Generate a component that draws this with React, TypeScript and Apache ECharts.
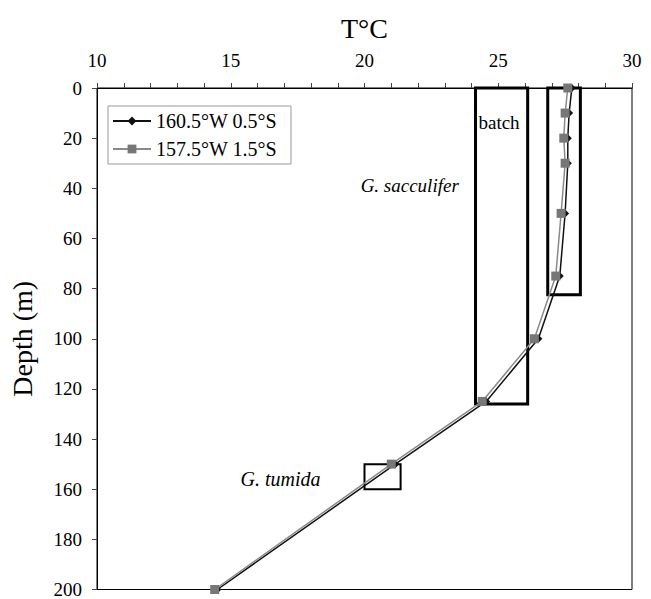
import React, { useEffect, useRef } from "react";
import * as echarts from "echarts";

// Depth profile data
const depths = [0, 10, 20, 30, 50, 75, 100, 125, 150, 200];
const seriesNames = ["160.5°W 0.5°S", "157.5°W 1.5°S"];
const temp160 = [27.75, 27.65, 27.6, 27.6, 27.5, 27.3, 26.5, 24.55, 21.15, 14.5];
const temp157 = [27.6, 27.5, 27.45, 27.5, 27.35, 27.15, 26.35, 24.4, 21.0, 14.4];

// Sampling boxes: [tMin, tMax, depthTop, depthBottom]
const boxes = [
  [24.15, 26.1, 0, 126],
  [26.85, 28.07, 0, 82.5],
  [20.0, 21.35, 150, 160],
];

// Annotations: [temperature, depth, text]
const annotations: [number, number, string][] = [
  [25.03, 13.8, "batch"],
  [21.69, 39, "G. sacculifer"],
  [16.86, 155.9, "G. tumida"],
];
const italicAnnotations = ["G. sacculifer", "G. tumida"];

const xTickLabels = [10, 15, 20, 25, 30];

const FONT = '"Liberation Serif", "Times New Roman", serif';

export default function App() {
  const ref = useRef<HTMLDivElement>(null);

  useEffect(() => {
    if (!ref.current) return;
    const chart = echarts.init(ref.current, undefined, { renderer: "svg" });

    const option: any = {
      animation: false,
      backgroundColor: "#fff",
      textStyle: { fontFamily: FONT },
      grid: {
        left: 93,
        right: 19,
        top: 88,
        bottom: 3,
        show: true,
        borderColor: "#000",
        borderWidth: 1,
        backgroundColor: "transparent",
      },
      legend: {
        orient: "vertical",
        left: 108,
        top: 106,
        padding: [5, 14, 5, 4],
        itemGap: 8,
        itemWidth: 38,
        itemHeight: 11,
        borderColor: "#999",
        borderWidth: 1,
        data: seriesNames,
        textStyle: { fontFamily: FONT, fontSize: 20, color: "#000" },
      },
      xAxis: {
        type: "value",
        position: "top",
        min: 10,
        max: 30,
        interval: 1,
        name: "T°C",
        nameLocation: "middle",
        nameGap: 46,
        nameTextStyle: { fontFamily: FONT, fontSize: 28, color: "#000" },
        axisLine: { show: true, lineStyle: { color: "#000", width: 1 } },
        axisTick: { show: true, inside: false, length: 5, lineStyle: { color: "#444" } },
        axisLabel: {
          margin: 18,
          fontFamily: FONT,
          fontSize: 19,
          color: "#000",
          formatter: (v: number) => (xTickLabels.includes(v) ? String(v) : ""),
        },
        splitLine: { show: false },
      },
      yAxis: {
        type: "value",
        inverse: true,
        min: 0,
        max: 200,
        interval: 20,
        name: "Depth (m)",
        nameLocation: "middle",
        nameRotate: 90,
        nameGap: 61,
        nameTextStyle: { fontFamily: FONT, fontSize: 28, color: "#000" },
        axisLine: { show: true, lineStyle: { color: "#000", width: 1 } },
        axisTick: { show: true, inside: false, length: 5, lineStyle: { color: "#444" } },
        axisLabel: { margin: 15, fontFamily: FONT, fontSize: 19, color: "#000" },
        splitLine: { show: false },
      },
      series: [
        {
          type: "custom",
          name: "boxes",
          silent: true,
          z: 1,
          renderItem: (params: any, api: any) => {
            const p1 = api.coord([api.value(0), api.value(2)]);
            const p2 = api.coord([api.value(1), api.value(3)]);
            return {
              type: "rect",
              shape: {
                x: Math.min(p1[0], p2[0]),
                y: Math.min(p1[1], p2[1]),
                width: Math.abs(p2[0] - p1[0]),
                height: Math.abs(p2[1] - p1[1]),
              },
              style: {
                fill: "none",
                stroke: "#000",
                lineWidth: params.dataIndex === 2 ? 2 : 3,
              },
            };
          },
          encode: { x: [0, 1], y: [2, 3] },
          data: boxes,
        },
        {
          type: "line",
          name: seriesNames[0],
          z: 3,
          data: depths.map((d, i) => [temp160[i], d]),
          symbol: "diamond",
          symbolSize: 8,
          lineStyle: { color: "#111", width: 1.5 },
          itemStyle: { color: "#111" },
        },
        {
          type: "line",
          name: seriesNames[1],
          z: 4,
          data: depths.map((d, i) => [temp157[i], d]),
          symbol: "rect",
          symbolSize: 9,
          lineStyle: { color: "#8a8a8a", width: 1.5 },
          itemStyle: { color: "#777" },
        },
        {
          type: "scatter",
          name: "annotations",
          silent: true,
          symbolSize: 1,
          itemStyle: { color: "rgba(0,0,0,0)" },
          z: 5,
          data: annotations.map((a) => ({
            value: [a[0], a[1]],
            name: a[2],
            label: {
              fontStyle: italicAnnotations.includes(a[2]) ? "italic" : "normal",
              fontSize: a[2] === "G. tumida" ? 20 : 19,
            },
          })),
          label: {
            show: true,
            position: "inside",
            formatter: (p: any) => p.name,
            fontFamily: FONT,
            color: "#000",
            textBorderWidth: 0,
            opacity: 1,
          },
        },
      ],
    };

    chart.setOption(option);
    return () => chart.dispose();
  }, []);

  return (
    <div
      ref={ref}
      style={{ position: "fixed", left: 0, top: 0, width: 651, height: 599, background: "#fff" }}
    />
  );
}
